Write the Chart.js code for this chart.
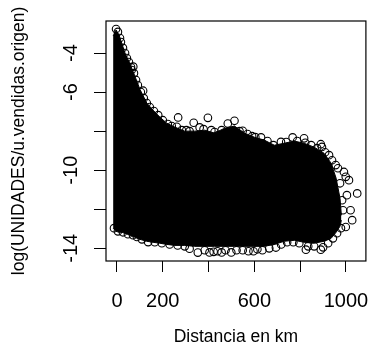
<!DOCTYPE html>
<html>
<head>
<meta charset="utf-8">
<script src="https://cdn.jsdelivr.net/npm/chart.js@4.4.1/dist/chart.umd.min.js"></script>
<style>
  html, body { margin: 0; padding: 0; background: #fff; }
  canvas { display: block; }
</style>
</head>
<body>
<canvas id="chart" width="371" height="347"></canvas>
<script>
// dense core of the cloud: top and bottom edge at shared distances (km)
const coreKm = [-17, -4, 9, 22, 35, 57, 78, 100, 130, 157, 187, 217, 252, 296, 339, 383,
  426, 470, 513, 557, 600, 643, 687, 730, 774, 817, 861, 904, 935, 957, 974, 980];
const coreTop = [-3.13, -2.82, -3.08, -3.54, -4.00, -4.56, -5.18, -5.85, -6.56, -6.92, -7.28,
  -7.59, -7.79, -8.00, -8.00, -7.95, -8.10, -7.85, -7.74, -8.10, -8.31, -8.46, -8.72, -8.62,
  -8.51, -8.62, -8.82, -9.13, -9.64, -10.41, -11.44, -12.31];
const coreBottom = [-12.97, -13.13, -13.18, -13.18, -13.23, -13.33, -13.44, -13.54, -13.64,
  -13.69, -13.74, -13.80, -13.85, -13.85, -13.90, -13.90, -13.90, -13.90, -13.90, -13.90,
  -13.90, -13.90, -13.80, -13.64, -13.59, -13.69, -13.74, -13.64, -13.49, -13.18, -12.87, -12.56];

// circles sitting on the top edge of the cloud
const topKm = [-4, 4, 13, 17, 26, 35, 43, 52, 61, 74, 83, 91, 104, 117, 130, 143, 161, 200,
  222, 239, 283, 317, 378, 426, 457, 535, 570, 604, 657, 683, 739, 787, 848, 874, 909, 939,
  965, 974, 983, 987];
const topY = [-2.77, -2.92, -3.23, -3.44, -3.74, -4.00, -4.26, -4.46, -4.72, -5.03, -5.38,
  -5.64, -6.00, -6.31, -6.56, -6.77, -6.97, -7.44, -7.64, -7.74, -7.95, -8.00, -7.90, -8.05,
  -7.95, -8.00, -8.15, -8.31, -8.51, -8.72, -8.56, -8.51, -8.72, -8.87, -9.08, -9.49, -9.90,
  -10.67, -11.54, -12.05];

// circles sitting on the bottom edge of the cloud
const bottomKm = [-13, 4, 26, 48, 70, 87, 109, 136, 165, 196, 230, 265, 296, 317, 353, 383,
  404, 422, 439, 457, 474, 499, 522, 549, 574, 596, 613, 635, 665, 694, 717, 743, 770, 796,
  825, 835, 861, 890, 900, 922, 943, 961, 978];
const bottomY = [-12.97, -13.13, -13.18, -13.28, -13.33, -13.42, -13.54, -13.68, -13.69,
  -13.74, -13.80, -13.85, -13.90, -14.02, -14.22, -14.10, -14.21, -14.18, -14.15, -14.21,
  -14.10, -14.21, -14.10, -14.10, -14.15, -14.15, -14.05, -14.10, -14.00, -13.96, -13.80,
  -13.69, -13.69, -13.74, -14.07, -13.90, -13.90, -14.07, -13.95, -13.74, -13.49, -13.23, -12.97];

// loose points outside the cloud
const looseKm = [71, 64, 114, 180, 267, 335, 397, 412, 484, 513, 549, 590, 629, 634, 716,
  767, 817, 822, 890, 895, 926, 955, 991, 999, 1013, 1049, 1004, 1020, 1027, 999, 261, 303,
  361, 440];
const looseY = [-4.70, -4.87, -5.93, -7.18, -7.30, -7.57, -7.32, -7.95, -7.61, -7.47, -7.98,
  -8.26, -8.32, -8.63, -8.55, -8.32, -8.37, -8.60, -8.67, -8.81, -9.23, -9.74, -10.09, -10.34,
  -10.51, -11.19, -11.28, -12.05, -12.56, -12.91, -7.78, -7.95, -7.81, -8.21];

const xLabels = [0, 200, 600, 1000];
const yLabels = [-4, -6, -10, -14];
const xTitle = "Distancia en km";
const yTitle = "log(UNIDADES/u.vendidas.origen)";

const zip = (xs, ys) => xs.map((x, i) => ({ x: x, y: ys[i] }));

const ring = {
  showLine: false,
  pointStyle: "circle",
  pointRadius: 3.8,
  pointBorderWidth: 1.1,
  pointBorderColor: "#000",
  pointBackgroundColor: "rgba(0,0,0,0)",
};

// R-style frame and labels
const rAxes = {
  id: "rAxes",
  afterDraw(chart) {
    const ctx = chart.ctx;
    const a = chart.chartArea;
    const xs = chart.scales.x;
    const ys = chart.scales.y;
    ctx.save();
    ctx.strokeStyle = "#000";
    ctx.lineWidth = 1.2;
    ctx.strokeRect(a.left, a.top, a.right - a.left, a.bottom - a.top);

    ctx.fillStyle = "#000";
    ctx.font = "20px 'Liberation Sans', Arial, sans-serif";
    ctx.textAlign = "center";
    ctx.textBaseline = "alphabetic";
    xLabels.forEach((v) => ctx.fillText(String(v), xs.getPixelForValue(v), 307));
    yLabels.forEach((v) => {
      ctx.save();
      ctx.translate(77, ys.getPixelForValue(v));
      ctx.rotate(-Math.PI / 2);
      ctx.fillText(String(v), 0, 0);
      ctx.restore();
    });

    ctx.font = "17.5px 'Liberation Sans', Arial, sans-serif";
    ctx.fillText(xTitle, (a.left + a.right) / 2, 342);
    ctx.save();
    ctx.translate(24, (a.top + a.bottom) / 2);
    ctx.rotate(-Math.PI / 2);
    ctx.fillText(yTitle, 0, 0);
    ctx.restore();
    ctx.restore();
  },
};

new Chart(document.getElementById("chart"), {
  type: "line",
  data: {
    datasets: [
      {
        data: zip(coreKm, coreTop),
        borderColor: "#000",
        borderWidth: 1,
        backgroundColor: "#000",
        pointRadius: 0,
        tension: 0,
        fill: "+1",
      },
      {
        data: zip(coreKm, coreBottom),
        borderColor: "#000",
        borderWidth: 1,
        pointRadius: 0,
        tension: 0,
        fill: false,
      },
      { data: zip(topKm, topY), ...ring },
      { data: zip(bottomKm, bottomY), ...ring },
      { data: zip(looseKm, looseY), ...ring },
    ],
  },
  options: {
    responsive: false,
    animation: false,
    devicePixelRatio: 1,
    layout: { padding: { left: 0, right: 4, top: 21, bottom: 0 } },
    plugins: { legend: { display: false }, tooltip: { enabled: false } },
    scales: {
      x: {
        type: "linear",
        min: -48,
        max: 1087,
        afterFit: (s) => { s.height = 86; },
        ticks: { stepSize: 200, includeBounds: false, display: false },
        grid: { drawOnChartArea: false, tickLength: 11, color: "#000", lineWidth: 1 },
        border: { display: false },
      },
      y: {
        min: -14.65,
        max: -2.36,
        afterFit: (s) => { s.width = 106; },
        ticks: { stepSize: 2, includeBounds: false, display: false },
        grid: { drawOnChartArea: false, tickLength: 12, color: "#000", lineWidth: 1 },
        border: { display: false },
      },
    },
  },
  plugins: [rAxes],
});
</script>
</body>
</html>
